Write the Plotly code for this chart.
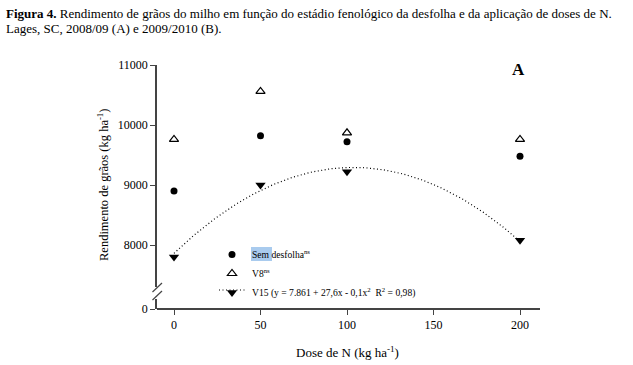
import numpy as np
import plotly.graph_objects as go

# ---- data ----
doses = [0, 50, 100, 200]
sem_desfolha = [8900, 9820, 9720, 9480]
v8 = [9760, 10560, 9870, 9760]
v15 = [7800, 9000, 9220, 8080]
fit_coefs = [7861, 27.6, -0.133]  # V15 quadratic fit (a, b, c)
x_ticks = [0, 50, 100, 150, 200]
y_ticks = [8000, 9000, 10000, 11000]

W, H = 633, 365
L, R, T, B = 157, 540, 65, 309


def px(xp):
    return (xp - L) / (R - L)


def py(yp):
    return (B - yp) / (B - T)


FONT = "Liberation Serif, Times New Roman, serif"
AX = "#444444"

xf = np.linspace(0, 200, 201)
yf = fit_coefs[0] + fit_coefs[1] * xf + fit_coefs[2] * xf ** 2

fig = go.Figure()
fig.add_trace(go.Scatter(x=xf, y=yf, mode="lines", yaxis="y2", showlegend=False,
                         line=dict(color="black", width=1.2, dash="1px,2.5px")))
fig.add_trace(go.Scatter(x=doses, y=sem_desfolha, mode="markers", yaxis="y2",
                         name="Sem desfolha<sup>ns</sup>",
                         marker=dict(symbol="circle", size=7, color="black")))
fig.add_trace(go.Scatter(x=doses, y=v8, mode="markers", yaxis="y2",
                         name="V8<sup>ns</sup>",
                         marker=dict(symbol="triangle-up-open", size=8, color="black",
                                     line=dict(width=1.2, color="black"))))
fig.add_trace(go.Scatter(x=doses, y=v15, mode="markers", yaxis="y2",
                         name="V15 (y = 7.861 + 27,6x - 0,1x<sup>2</sup>  R<sup>2</sup> = 0,98)",
                         marker=dict(symbol="triangle-down", size=9, color="black")))
# invisible trace on the lower (0) axis segment so that it is drawn
fig.add_trace(go.Scatter(x=[None], y=[None], yaxis="y", showlegend=False, hoverinfo="skip"))

shapes = [
    # highlight behind "Sem"
    dict(type="rect", xref="paper", yref="paper", x0=px(251), x1=px(272), y0=py(261), y1=py(247),
         fillcolor="#a9cbee", line=dict(width=0), layer="below"),
    # legend dotted line for V15
    dict(type="line", xref="paper", yref="paper", x0=px(219), x1=px(246), y0=py(290), y1=py(290),
         line=dict(color="black", width=1.2, dash="1px,2.5px")),
    # axis break marks
    dict(type="line", xref="paper", yref="paper", x0=px(152.5), x1=px(162), y0=py(292), y1=py(283),
         line=dict(color=AX, width=1.2)),
    dict(type="line", xref="paper", yref="paper", x0=px(152.5), x1=px(162), y0=py(300), y1=py(291),
         line=dict(color=AX, width=1.2)),
]

annotations = [
    dict(text="<b>Figura 4.</b> Rendimento de grãos do milho em função do estádio fenológico da desfolha e da aplicação de doses de N.",
         xref="paper", yref="paper", x=px(4), y=py(4), xanchor="left", yanchor="top",
         showarrow=False, font=dict(family=FONT, size=13, color="black")),
    dict(text="Lages, SC, 2008/09 (A) e 2009/2010 (B).",
         xref="paper", yref="paper", x=px(4), y=py(19), xanchor="left", yanchor="top",
         showarrow=False, font=dict(family=FONT, size=13, color="black")),
    dict(text="<b>A</b>", xref="paper", yref="paper", x=px(518), y=py(70),
         xanchor="center", yanchor="middle", showarrow=False,
         font=dict(family=FONT, size=17, color="black")),
    dict(text="Dose de N (kg ha<sup>-1</sup>)", xref="paper", yref="paper",
         x=px(347), y=py(352), xanchor="center", yanchor="middle", showarrow=False,
         font=dict(family=FONT, size=13, color="black")),
    dict(text="Rendimento de grãos (kg ha<sup>-1</sup>)", xref="paper", yref="paper",
         x=px(103), y=py(185), xanchor="center", yanchor="middle", showarrow=False,
         textangle=-90, font=dict(family=FONT, size=12.5, color="black")),
]

tickfont = dict(family=FONT, size=12, color="black")
fig.update_layout(
    width=W, height=H,
    margin=dict(l=L, r=W - R, t=T, b=H - B, pad=0, autoexpand=False),
    paper_bgcolor="white", plot_bgcolor="white",
    font=dict(family=FONT, size=12, color="black"),
    xaxis=dict(range=[(L - 174) / 1.73, (R - 174) / 1.73], tickvals=x_ticks,
               showline=True, linecolor=AX, linewidth=1.5, ticks="outside", ticklen=5,
               tickcolor=AX, showgrid=False, zeroline=False, anchor="free", position=0,
               side="bottom", tickfont=tickfont, automargin=False),
    yaxis=dict(domain=[0, py(299)], range=[0, 1000], tickvals=[0], showline=True,
               linecolor=AX, linewidth=1.5, ticks="outside", ticklen=5, tickcolor=AX,
               showgrid=False, zeroline=False, anchor="x", tickfont=tickfont,
               automargin=False),
    yaxis2=dict(domain=[py(287), 1], range=[7300, 11000], tickvals=y_ticks, tickformat="d",
                showline=True, linecolor=AX, linewidth=1.5, ticks="outside", ticklen=5,
                tickcolor=AX, showgrid=False, zeroline=False, anchor="x", tickfont=tickfont,
                automargin=False),
    legend=dict(x=px(212), y=py(240), xanchor="left", yanchor="top",
                bgcolor="rgba(0,0,0,0)", font=dict(family=FONT, size=9.6, color="black"),
                tracegroupgap=0, itemwidth=30),
    shapes=shapes, annotations=annotations,
)

fig.write_html("out.html", config={"displayModeBar": False},
               post_script="document.body.style.margin='0px';")
